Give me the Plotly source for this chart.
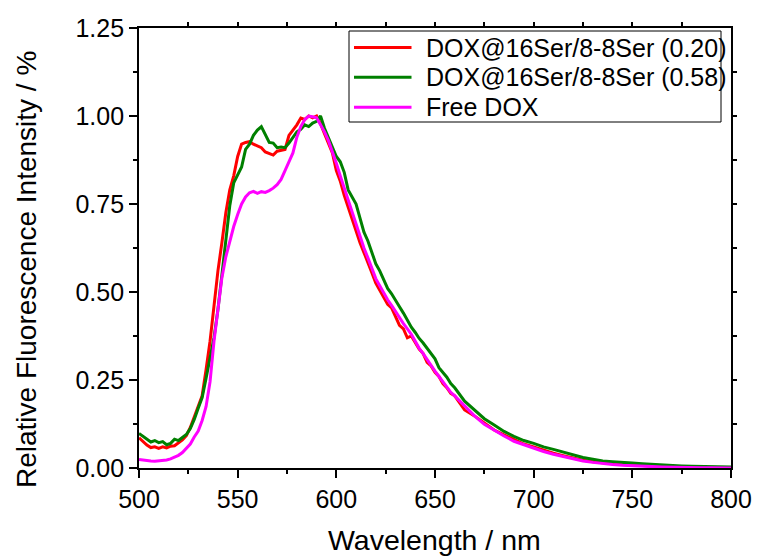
import numpy as np
import plotly.graph_objects as go

wavelength = list(range(500, 662, 2)) + list(range(665, 805, 5))

dox_020 = [
    0.086, 0.075, 0.065, 0.058, 0.060, 0.056, 0.060, 0.057, 0.062, 0.063,
    0.072, 0.080, 0.092, 0.115, 0.145, 0.175, 0.205, 0.280, 0.360, 0.460,
    0.560, 0.640, 0.725, 0.790, 0.830, 0.885, 0.920, 0.925, 0.927, 0.920,
    0.915, 0.910, 0.898, 0.894, 0.889, 0.900, 0.903, 0.905, 0.945, 0.960,
    0.975, 0.994, 0.990, 1.000, 0.995, 1.000, 0.978, 0.950, 0.925, 0.895,
    0.845, 0.815, 0.775, 0.740, 0.705, 0.675, 0.640, 0.612, 0.585, 0.555,
    0.525, 0.505, 0.485, 0.465, 0.455, 0.430, 0.405, 0.395, 0.370, 0.375,
    0.355, 0.338, 0.325, 0.300, 0.290, 0.272, 0.260, 0.240, 0.228, 0.212,
    0.205,
    0.165, 0.148, 0.128, 0.108, 0.094, 0.080, 0.068, 0.060, 0.050, 0.042,
    0.035, 0.028, 0.022, 0.018, 0.014, 0.012, 0.010, 0.008, 0.007, 0.006,
    0.005, 0.004, 0.003, 0.003, 0.002, 0.002, 0.001, 0.001,
]

dox_058 = [
    0.098, 0.090, 0.080, 0.074, 0.078, 0.072, 0.075, 0.066, 0.070, 0.082,
    0.078, 0.086, 0.095, 0.112, 0.138, 0.170, 0.200, 0.255, 0.310, 0.370,
    0.450, 0.545, 0.650, 0.745, 0.810, 0.835, 0.855, 0.905, 0.920, 0.945,
    0.960, 0.970, 0.947, 0.925, 0.923, 0.910, 0.912, 0.910, 0.923, 0.940,
    0.955, 0.962, 0.975, 0.970, 0.980, 0.985, 1.000, 0.965, 0.940, 0.915,
    0.885, 0.870, 0.840, 0.790, 0.770, 0.750, 0.710, 0.670, 0.645, 0.610,
    0.580, 0.560, 0.535, 0.510, 0.495, 0.478, 0.458, 0.440, 0.420, 0.400,
    0.385, 0.368, 0.355, 0.340, 0.323, 0.310, 0.285, 0.272, 0.258, 0.240,
    0.228,
    0.190, 0.165, 0.140, 0.122, 0.104, 0.090, 0.078, 0.070, 0.060, 0.053,
    0.045, 0.036, 0.030, 0.025, 0.020, 0.018, 0.017, 0.014, 0.012, 0.010,
    0.008, 0.007, 0.006, 0.005, 0.004, 0.004, 0.003, 0.003,
]

free_dox = [
    0.024, 0.022, 0.021, 0.020, 0.019, 0.020, 0.021, 0.023, 0.026, 0.030,
    0.036, 0.044, 0.055, 0.068, 0.088, 0.105, 0.135, 0.175, 0.245, 0.360,
    0.450, 0.540, 0.600, 0.645, 0.686, 0.720, 0.750, 0.770, 0.782, 0.786,
    0.780, 0.785, 0.783, 0.788, 0.795, 0.805, 0.820, 0.845, 0.870, 0.895,
    0.940, 0.970, 0.990, 1.000, 0.998, 0.995, 0.975, 0.955, 0.930, 0.900,
    0.866, 0.830, 0.795, 0.765, 0.730, 0.690, 0.660, 0.625, 0.597, 0.568,
    0.538, 0.518, 0.497, 0.478, 0.462, 0.445, 0.425, 0.410, 0.395, 0.380,
    0.360, 0.340, 0.325, 0.308, 0.290, 0.275, 0.260, 0.245, 0.230, 0.215,
    0.205,
    0.175, 0.148, 0.124, 0.107, 0.091, 0.076, 0.066, 0.056, 0.047, 0.039,
    0.032, 0.025, 0.020, 0.016, 0.012, 0.010, 0.008, 0.006, 0.005, 0.004,
    0.003, 0.002, 0.002, 0.001, 0.001, 0.001, 0.000, 0.000,
]

series_names = ["DOX@16Ser/8-8Ser (0.20)", "DOX@16Ser/8-8Ser (0.58)", "Free DOX"]
series_colors = ["#FF0000", "#008000", "#FF00FF"]
series_values = [dox_020, dox_058, free_dox]

x_ticks = [500, 550, 600, 650, 700, 750, 800]
y_ticks = [0.0, 0.25, 0.5, 0.75, 1.0, 1.25]
y_ticklabels = ["0.00", "0.25", "0.50", "0.75", "1.00", "1.25"]

FONT = "Arial, 'Liberation Sans', sans-serif"

W, H = 757, 556
ML, MR, MT, MB = 139, 26, 28, 88
PW, PH = W - ML - MR, H - MT - MB


def px_x(px):
    return (px - ML) / PW


def px_y(py):
    return (H - MB - py) / PH


fig = go.Figure()
for name, color, vals in zip(series_names, series_colors, series_values):
    fig.add_trace(go.Scatter(x=wavelength, y=vals, mode="lines", name=name,
                             line=dict(color=color, width=3), showlegend=False))
# dummy trace for top/right mirror axes
fig.add_trace(go.Scatter(x=[], y=[], xaxis="x2", yaxis="y2", showlegend=False,
                         hoverinfo="skip"))

axis_common = dict(showgrid=False, zeroline=False, showline=True, linecolor="black",
                   linewidth=1.8, automargin=False)

fig.update_layout(
    width=W, height=H,
    margin=dict(l=ML, r=MR, t=MT, b=MB, autoexpand=False),
    paper_bgcolor="white", plot_bgcolor="white",
    font=dict(family=FONT, color="black", size=25),
    xaxis=dict(range=[500, 800], tickvals=x_ticks, ticks="outside", ticklen=8,
               tickwidth=1.8, tickcolor="black",
               minor=dict(dtick=25, tick0=500, ticks="outside", ticklen=4,
                          tickwidth=1.8, tickcolor="black"),
               tickfont=dict(size=25), **axis_common),
    yaxis=dict(range=[0, 1.25], tickvals=y_ticks, ticktext=y_ticklabels,
               ticks="outside", ticklen=8, tickwidth=1.8, tickcolor="black",
               minor=dict(dtick=0.125, tick0=0, ticks="outside", ticklen=4,
                          tickwidth=1.8, tickcolor="black"),
               tickfont=dict(size=25), **axis_common),
    xaxis2=dict(range=[500, 800], overlaying="x", side="top", anchor="y2",
                tickvals=[525 + 25 * i for i in range(11)], ticks="outside",
                ticklen=4, tickwidth=1.5, tickcolor="black",
                showticklabels=False, **axis_common),
    yaxis2=dict(range=[0, 1.25], overlaying="y", side="right", anchor="x2",
                tickvals=[0.125 * i for i in range(1, 10)], ticks="outside",
                ticklen=4, tickwidth=1.5, tickcolor="black",
                showticklabels=False, **axis_common),
    showlegend=False,
)

# legend (box, line samples, labels)
fig.add_shape(type="rect", xref="paper", yref="paper",
              x0=px_x(349), x1=px_x(721), y0=px_y(122), y1=px_y(31),
              line=dict(color="black", width=1), fillcolor="white", layer="above")
row_y = [47.5, 77.3, 107.3]
for name, color, ry in zip(series_names, series_colors, row_y):
    fig.add_shape(type="line", xref="paper", yref="paper",
                  x0=px_x(354), x1=px_x(411.5), y0=px_y(ry), y1=px_y(ry),
                  line=dict(color=color, width=3), layer="above")
    fig.add_annotation(text=name, xref="paper", yref="paper",
                       x=px_x(424), y=px_y(ry), xanchor="left", yanchor="middle",
                       showarrow=False, font=dict(size=25, family=FONT))

fig.add_annotation(text="Wavelength / nm", xref="paper", yref="paper",
                   x=px_x(434), y=px_y(540),
                   xanchor="center", yanchor="middle", showarrow=False,
                   font=dict(size=28.5, family=FONT))
fig.add_annotation(text="Relative Fluorescence Intensity / %", xref="paper", yref="paper",
                   x=px_x(26), y=px_y(270), textangle=-90,
                   xanchor="center", yanchor="middle", showarrow=False,
                   font=dict(size=28, family=FONT))

fig.write_html("out.html")
